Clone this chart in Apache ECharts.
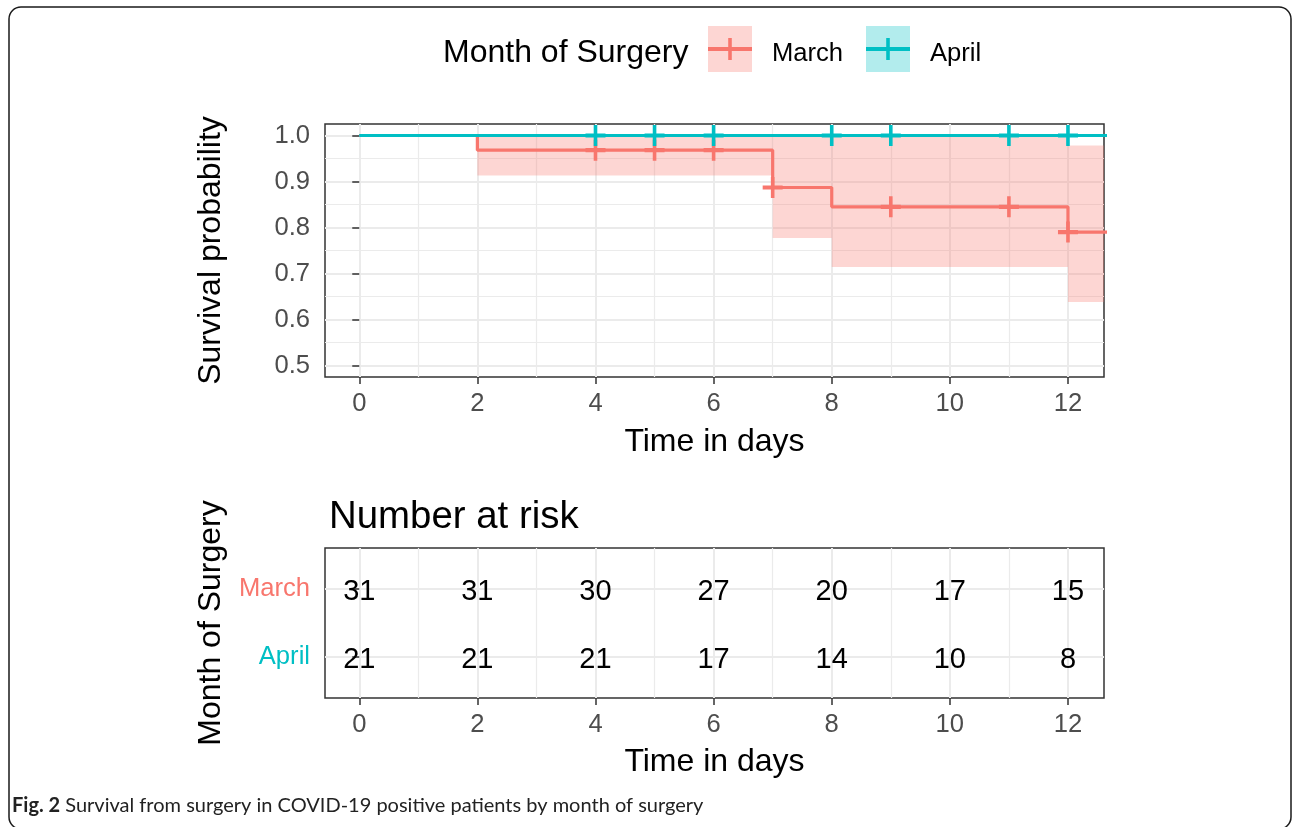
<!DOCTYPE html>
<html>
<head>
<meta charset="utf-8">
<script src="https://cdn.jsdelivr.net/npm/echarts@6/dist/echarts.min.js"></script>
<style>
html,body{margin:0;padding:0;background:#ffffff;}
#chart{width:1292px;height:827px;}
</style>
</head>
<body>
<div id="chart"></div>
<script>
// ---------------- data ----------------
const groups = ['March', 'April'];
const groupColors = ['#F8766D', '#00BFC4'];
const legendTitle = 'Month of Surgery';

// Kaplan-Meier steps: [time, survival]
const marchSteps = [[0, 1.0], [2, 0.968], [7, 0.887], [8, 0.845], [12, 0.79], [14, 0.79]];
const aprilSteps = [[0, 1.0], [14, 1.0]];
// 95% confidence band for March: [from, to, lower, upper]
const marchBand = [[2, 7, 0.913, 1.0], [7, 8, 0.777, 1.0], [8, 12, 0.714, 1.0], [12, 14, 0.638, 0.978]];
// censoring marks: [time, survival]
const marchCensor = [[4, 0.968], [5, 0.968], [6, 0.968], [7, 0.887], [9, 0.845], [11, 0.845], [12, 0.79]];
const aprilCensor = [[4, 1.0], [5, 1.0], [6, 1.0], [8, 1.0], [9, 1.0], [11, 1.0], [12, 1.0]];

// number at risk table
const riskTimes = [0, 2, 4, 6, 8, 10, 12];
const marchRisk = [31, 31, 30, 27, 20, 17, 15];
const aprilRisk = [21, 21, 21, 17, 14, 10, 8];

// tick labels
const xTicks = [0, 2, 4, 6, 8, 10, 12];
const yTicks = [0.5, 0.6, 0.7, 0.8, 0.9, 1.0];

const captionBold = 'Fig. 2';
const captionText = ' Survival from surgery in COVID-19 positive patients by month of surgery';

// ---------------- chart ----------------
const FONT = '"Liberation Sans", Arial, Helvetica, sans-serif';
const AXIS_TEXT = '#4D4D4D';
const BORDER = '#333333';
const GRID = '#EBEBEB';

const riskRows = groups.map((g, i) => groups.length - i); // March -> 2, April -> 1
const riskData = [];
riskTimes.forEach((t, i) => {
  riskData.push([t, riskRows[0], marchRisk[i]]);
  riskData.push([t, riskRows[1], aprilRisk[i]]);
});

// bold "+" censor glyph
const crossPath = 'path://M0,8H20V12H0Z M8.2,0H11.8V20H8.2Z';

function xAxisCfg(gridIndex, nameGap) {
  return {
    type: 'value', gridIndex: gridIndex, min: -0.58, max: 12.61, splitNumber: 6,
    name: 'Time in days', nameLocation: 'middle', nameGap: nameGap,
    nameTextStyle: {fontFamily: FONT, fontSize: 32, color: '#000'},
    axisLine: {show: false},
    axisTick: {show: true, length: 7, customValues: xTicks, lineStyle: {color: BORDER, width: 1.5}},
    axisLabel: {customValues: xTicks, fontFamily: FONT, fontSize: 25.6, color: AXIS_TEXT, margin: 14},
    splitLine: {show: true, lineStyle: {color: GRID, width: 2}},
    minorTick: {show: false, splitNumber: 2},
    minorSplitLine: {show: true, lineStyle: {color: GRID, width: 1.2}}
  };
}

const chart = echarts.init(document.getElementById('chart'), null, {renderer: 'canvas'});

const option = {
  animation: false,
  backgroundColor: '#ffffff',
  title: {
    text: 'Number at risk', left: 324, top: 493,
    textStyle: {fontFamily: FONT, fontSize: 38.4, fontWeight: 'normal', color: '#000'}
  },
  grid: [
    {left: 325, top: 124, width: 779, height: 253, show: true, borderColor: BORDER, borderWidth: 1.5, backgroundColor: 'transparent'},
    {left: 325, top: 548, width: 779, height: 150, show: true, borderColor: BORDER, borderWidth: 1.5, backgroundColor: 'transparent'}
  ],
  xAxis: [xAxisCfg(0, 49), xAxisCfg(1, 48)],
  yAxis: [
    {
      type: 'value', gridIndex: 0, min: 0.475, max: 1.025, splitNumber: 5,
      name: 'Survival probability', nameLocation: 'middle', nameGap: 98,
      nameTextStyle: {fontFamily: FONT, fontSize: 32, color: '#000'},
      axisLine: {show: false},
      axisTick: {show: true, length: 7, customValues: yTicks, lineStyle: {color: BORDER, width: 1.5}},
      axisLabel: {customValues: yTicks, fontFamily: FONT, fontSize: 25.6, color: AXIS_TEXT, margin: 15,
        formatter: v => Number(v).toFixed(1)},
      splitLine: {show: true, lineStyle: {color: GRID, width: 2}},
      minorTick: {show: false, splitNumber: 2},
      minorSplitLine: {show: true, lineStyle: {color: GRID, width: 1.2}}
    },
    {
      type: 'value', gridIndex: 1, min: 0.4, max: 2.6, splitNumber: 2,
      name: legendTitle, nameLocation: 'middle', nameGap: 98,
      nameTextStyle: {fontFamily: FONT, fontSize: 32, color: '#000'},
      axisLine: {show: false},
      axisTick: {show: true, length: 7, customValues: riskRows, lineStyle: {color: BORDER, width: 1.5}},
      axisLabel: {customValues: riskRows, fontFamily: FONT, fontSize: 25.6, margin: 15,
        formatter: v => {
          const i = riskRows.indexOf(Math.round(v));
          return i < 0 ? '' : '{g' + i + '|' + groups[i] + '}';
        },
        rich: {
          g0: {color: groupColors[0], fontFamily: FONT, fontSize: 25.6},
          g1: {color: groupColors[1], fontFamily: FONT, fontSize: 25.6}
        }
      },
      splitLine: {show: true, lineStyle: {color: GRID, width: 2}}
    }
  ],
  series: [
    {
      name: 'March CI', type: 'custom', xAxisIndex: 0, yAxisIndex: 0, clip: true, silent: true,
      data: marchBand, encode: {x: [0, 1], y: [2, 3]},
      renderItem: (params, api) => {
        const p0 = api.coord([api.value(0), api.value(3)]);
        const p1 = api.coord([api.value(1), api.value(2)]);
        return {
          type: 'rect',
          shape: {x: p0[0], y: p0[1], width: p1[0] - p0[0], height: p1[1] - p0[1]},
          style: {fill: 'rgba(248,118,109,0.3)'}
        };
      }
    },
    {
      name: groups[0], type: 'line', xAxisIndex: 0, yAxisIndex: 0, step: 'end', data: marchSteps,
      symbol: 'none', clip: true, silent: true, lineStyle: {color: groupColors[0], width: 3.2}
    },
    {
      name: groups[1], type: 'line', xAxisIndex: 0, yAxisIndex: 0, step: 'end', data: aprilSteps,
      symbol: 'none', clip: true, silent: true, lineStyle: {color: groupColors[1], width: 3.2}
    },
    {
      name: groups[0] + ' censored', type: 'scatter', xAxisIndex: 0, yAxisIndex: 0, data: marchCensor,
      symbol: crossPath, symbolSize: [20, 21], silent: true, itemStyle: {color: groupColors[0], opacity: 1}, z: 3
    },
    {
      name: groups[1] + ' censored', type: 'scatter', xAxisIndex: 0, yAxisIndex: 0, data: aprilCensor,
      symbol: crossPath, symbolSize: [20, 21], silent: true, itemStyle: {color: groupColors[1], opacity: 1}, z: 4
    },
    {
      name: 'Number at risk', type: 'custom', xAxisIndex: 1, yAxisIndex: 1, silent: true,
      data: riskData, encode: {x: 0, y: 1},
      renderItem: (params, api) => {
        const p = api.coord([api.value(0), api.value(1)]);
        return {
          type: 'text', x: p[0], y: p[1] + 3,
          style: {text: String(api.value(2)), fontFamily: FONT, fontSize: 29, fill: '#000',
            align: 'center', verticalAlign: 'middle'}
        };
      }
    }
  ],
  graphic: [
    {
      type: 'rect', silent: true, z: 0,
      shape: {x: 9, y: 7, width: 1282, height: 822, r: 12},
      style: {fill: 'none', stroke: '#1a1a1a', lineWidth: 1.5}
    },
    // legend
    {type: 'text', left: 443, top: 37, silent: true,
      style: {text: legendTitle, fontFamily: FONT, fontSize: 32, fill: '#000'}},
    {type: 'group', left: 708, top: 26, silent: true, children: [
      {type: 'rect', shape: {x: 0, y: 0, width: 44, height: 46}, style: {fill: 'rgba(248,118,109,0.3)'}},
      {type: 'rect', shape: {x: 0, y: 21, width: 44, height: 4}, style: {fill: groupColors[0]}},
      {type: 'rect', shape: {x: 20.2, y: 12, width: 3.6, height: 22}, style: {fill: groupColors[0]}}
    ]},
    {type: 'text', left: 772, top: 41, silent: true,
      style: {text: groups[0], fontFamily: FONT, fontSize: 25.6, fill: '#000'}},
    {type: 'group', left: 866, top: 26, silent: true, children: [
      {type: 'rect', shape: {x: 0, y: 0, width: 44, height: 46}, style: {fill: 'rgba(0,191,196,0.3)'}},
      {type: 'rect', shape: {x: 0, y: 21, width: 44, height: 4}, style: {fill: groupColors[1]}},
      {type: 'rect', shape: {x: 20.2, y: 12, width: 3.6, height: 22}, style: {fill: groupColors[1]}}
    ]},
    {type: 'text', left: 930, top: 41, silent: true,
      style: {text: groups[1], fontFamily: FONT, fontSize: 25.6, fill: '#000'}},
    // caption
    {type: 'text', left: 12, top: 796, silent: true,
      style: {
        text: '{b|' + captionBold + '}{n|' + captionText + '}',
        rich: {
          b: {fontFamily: 'Lato, "Open Sans", sans-serif', fontWeight: 'bold', fontSize: 20, fill: '#222'},
          n: {fontFamily: 'Lato, "Open Sans", sans-serif', fontSize: 20, fill: '#222'}
        }
      }}
  ]
};

chart.setOption(option);
</script>
</body>
</html>
